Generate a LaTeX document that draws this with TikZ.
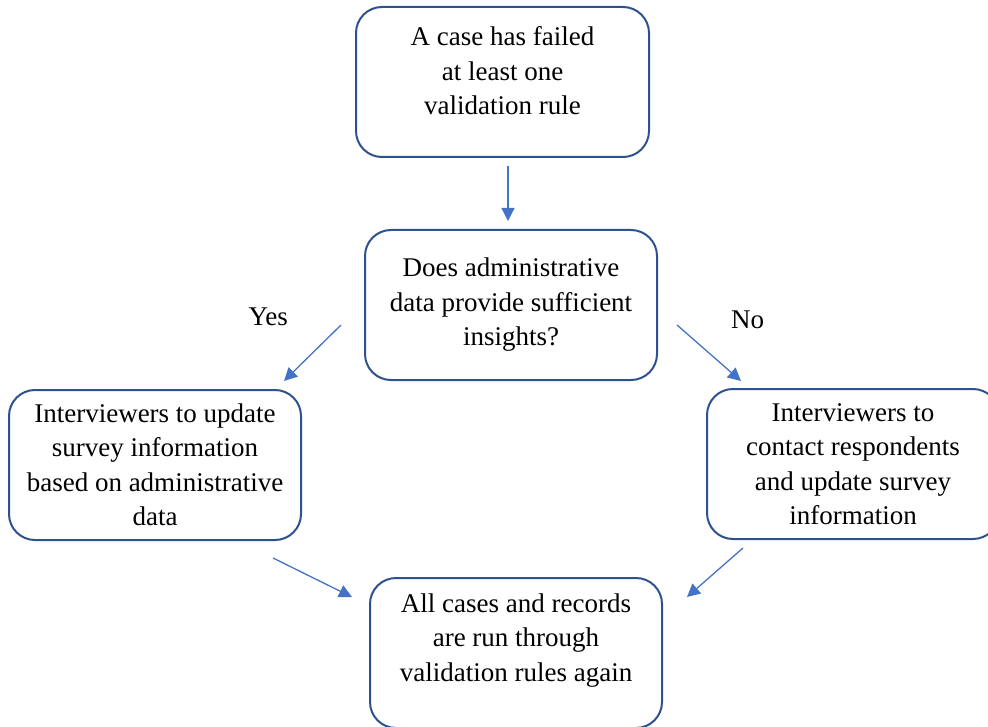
\documentclass[tikz,border=0pt]{standalone}
\usepackage{fontspec}
\setmainfont{Liberation Serif}
\usetikzlibrary{arrows.meta, positioning}
\definecolor{boxblue}{HTML}{2F528F}
\definecolor{arrowblue}{HTML}{4472C4}

\begin{document}
\begin{tikzpicture}[
    x=1pt, y=1pt,
    font=\rmfamily\fontsize{27}{34.5}\selectfont,
    box/.style={draw=boxblue, line width=2pt, rounded corners=26pt,
        minimum width=292pt, minimum height=150pt, inner sep=0pt, align=center},
    answer/.style={inner sep=0pt},
    flow/.style={color=arrowblue, line width=1.3pt, -{Triangle[length=13pt, width=13pt]}}
]

\useasboundingbox (0,0) rectangle (988,-727);

\node[box, minimum width=293pt] (fail) at (502.5,-82) {A case has failed\\at least one\\validation rule\\[-12pt]\mbox{}};
\node[box] (check) [below=71pt of fail, xshift=8.5pt] {Does administrative\\data provide sufficient\\insights?};
\node[box] (admin) [below left=8pt and 62pt of check] {Interviewers to update\\survey information\\based on administrative\\data};
\node[box] (contact) [below right=7pt and 48pt of check] {Interviewers to\\contact respondents\\and update survey\\information};
\node[box] (rerun) [below=196pt of check, xshift=5pt] {All cases and records\\are run through\\validation rules again\\[-3pt]\mbox{}};

\node[answer] (yes) [left=76pt of check, yshift=-12pt] {Yes};
\node[answer] (no) [right=73pt of check, yshift=-15pt] {No};

\path[flow]
    ([xshift=5.5pt, yshift=-8pt]fail.south) edge ([xshift=-3pt, yshift=8pt]check.north)
    ([xshift=-23pt, yshift=-20pt]check.west) edge ([xshift=-18pt, yshift=8pt]admin.north east)
    ([xshift=19pt, yshift=-20pt]check.east) edge ([xshift=35pt, yshift=7pt]contact.north west)
    ([xshift=-29pt, yshift=-17pt]admin.south east) edge ([xshift=-17pt, yshift=-20pt]rerun.north west)
    ([xshift=37pt, yshift=-8pt]contact.south west) edge ([xshift=24pt, yshift=-20pt]rerun.north east)
    ;

\end{tikzpicture}
\end{document}
